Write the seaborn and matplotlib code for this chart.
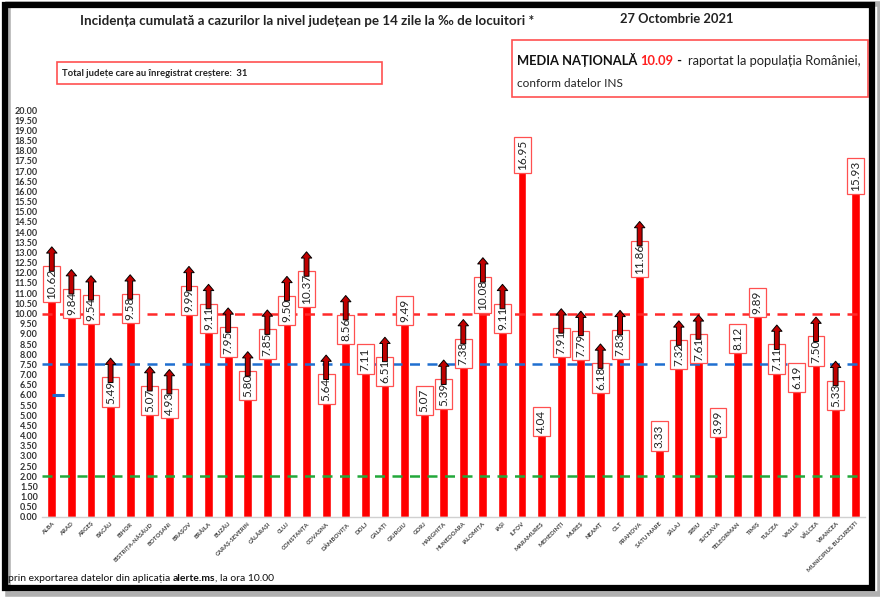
import numpy as np
import pandas as pd
import matplotlib
matplotlib.use('Agg')
import matplotlib.pyplot as plt
import seaborn as sns
from matplotlib.patches import Rectangle

# date judete
judete = ['ALBA', 'ARAD', 'ARGEȘ', 'BACĂU', 'BIHOR', 'BISTRIȚA-NĂSĂUD', 'BOTOȘANI',
          'BRAȘOV', 'BRĂILA', 'BUZĂU', 'CARAȘ-SEVERIN', 'CĂLĂRAȘI', 'CLUJ', 'CONSTANȚA',
          'COVASNA', 'DÂMBOVIȚA', 'DOLJ', 'GALAȚI', 'GIURGIU', 'GORJ', 'HARGHITA',
          'HUNEDOARA', 'IALOMIȚA', 'IAȘI', 'ILFOV', 'MARAMUREȘ', 'MEHEDINȚI', 'MUREȘ',
          'NEAMȚ', 'OLT', 'PRAHOVA', 'SATU MARE', 'SĂLAJ', 'SIBIU', 'SUCEAVA',
          'TELEORMAN', 'TIMIȘ', 'TULCEA', 'VASLUI', 'VÂLCEA', 'VRANCEA',
          'MUNICIPIUL BUCUREȘTI']
incidenta = [10.62, 9.84, 9.54, 5.49, 9.58, 5.07, 4.93, 9.99, 9.11, 7.95, 5.80, 7.85,
             9.50, 10.37, 5.64, 8.56, 7.11, 6.51, 9.49, 5.07, 5.39, 7.38, 10.08, 9.11,
             16.95, 4.04, 7.91, 7.79, 6.18, 7.83, 11.86, 3.33, 7.32, 7.61, 3.99, 8.12,
             9.89, 7.11, 6.19, 7.50, 5.33, 15.93]
# 1 = judetul a inregistrat crestere
crestere = [1, 1, 1, 1, 1, 1, 1, 1, 1, 1, 1, 1, 1, 1, 1, 1,
            0, 1, 0, 0, 1, 1, 1, 1, 0, 0, 1, 1, 1, 1, 1, 0, 1, 1, 0, 0, 0, 1, 0, 1, 1, 0]
praguri = [10.0, 7.5, 2.0]
culori_praguri = ['#ff2a2a', '#1f6fd0', '#22a83a']
prag_mic = 6.0
media_nationala = '10.09'
total_crestere = 31

df = pd.DataFrame({'judet': judete, 'incidenta': incidenta, 'crestere': crestere})

W, H = 880, 597
fig = plt.figure(figsize=(W / 100, H / 100), dpi=100)
sns.set_style('white')
plt.rcParams['font.family'] = ['Lato', 'DejaVu Sans']

def fx(px):
    return px / W

def fy(py):
    return 1 - py / H

ax = fig.add_axes([fx(42), fy(517), fx(865 - 42), (517 - 110) / H])
sns.barplot(data=df, x='judet', y='incidenta', color='#ff0000', width=0.45,
            saturation=1, ax=ax, zorder=2)
ax.set_xlim(-0.5, len(judete) - 0.5)
ax.set_ylim(0, 20)
ax.set_xlabel('')
ax.set_ylabel('')
ax.set_yticks(np.arange(0, 20.01, 0.5))
ax.set_yticklabels(['%.2f' % v for v in np.arange(0, 20.01, 0.5)],
                   fontsize=6.5, fontweight='bold', color='#333333')
ax.set_xticks(range(len(judete)))
ax.set_xticklabels(judete, rotation=45, ha='right', rotation_mode='anchor',
                   fontsize=4.3, fontweight='bold', color='#404040')
ax.tick_params(axis='both', length=0, pad=3)
for s in ['top', 'right', 'left']:
    ax.spines[s].set_visible(False)
ax.spines['bottom'].set_color('#d0d0d0')
ax.spines['bottom'].set_linewidth(1)

# linii de prag
for p, c in zip(praguri, culori_praguri):
    ax.axhline(p, color=c, lw=1.8, ls=(0, (4, 3)), zorder=3)
ax.axhline(prag_mic, xmin=0.012, xmax=0.036, color='#1f6fd0', lw=2.2,
           ls=(0, (4, 3)), zorder=3)

# etichete valori
etichete = []
for i, v in enumerate(incidenta):
    t = ax.text(i, v + 0.08, '%.2f' % v, rotation=90, ha='center', va='bottom',
                fontsize=8.5, color='#222222', zorder=4,
                bbox=dict(boxstyle='square,pad=0.25', fc='white', ec='#ff5050', lw=0.9))
    etichete.append(t)

fig.canvas.draw()
r = fig.canvas.get_renderer()
inv = ax.transData.inverted()
for i, t in enumerate(etichete):
    if not crestere[i]:
        continue
    bb = t.get_bbox_patch().get_window_extent(r)
    top = inv.transform((bb.x1, bb.y1))[1]
    ax.annotate('', xy=(i, top + 0.95), xytext=(i, top - 0.25),
                arrowprops=dict(arrowstyle='simple,head_length=0.45,head_width=0.75,tail_width=0.35',
                                mutation_scale=10, fc='#c00000', ec='black', lw=0.7,
                                shrinkA=0, shrinkB=0), zorder=5)


def rand(bucati, x0, y, latime, marime=10):
    # scrie bucati de text una dupa alta si le potriveste la latimea data (px)
    texte = [fig.text(0, fy(y), s, ha='left', va='baseline', fontsize=marime, **kw)
             for s, kw in bucati]
    total = sum(t.get_window_extent(r).width for t in texte)
    k = latime / total
    x = x0
    for t in texte:
        t.set_fontsize(marime * k)
        t.set_x(x / W)
        x += t.get_window_extent(r).width
    return texte


# titluri
rand([('Incidența cumulată a cazurilor la nivel județean pe 14 zile la ‰ de locuitori *',
       dict(fontweight='bold', color='#222222'))], 80, 25, 453)
rand([('27 Octombrie 2021', dict(fontweight='bold', color='#222222'))], 620, 23, 113)

# caseta stanga
fig.add_artist(Rectangle((fx(57), fy(84)), fx(382 - 57), (84 - 62) / H,
                         transform=fig.transFigure, fc='white', ec='#ff5050', lw=1.2))
rand([('Total județe care au înregistrat creștere:  %d' % total_crestere,
       dict(fontweight='bold', color='#222222'))], 62, 76, 186)

# caseta dreapta
fig.add_artist(Rectangle((fx(512), fy(97)), fx(868 - 512), (97 - 40) / H,
                         transform=fig.transFigure, fc='white', ec='#ff5050', lw=1.2))
rand([('MEDIA NAȚIONALĂ ', dict(fontweight='bold', color='#111111')),
      (media_nationala, dict(fontweight='bold', color='#ff2020')),
      (' -  ', dict(fontweight='bold', color='#111111')),
      ('raportat la populația României,', dict(color='#222222'))], 517, 65, 345)
rand([('conform datelor INS', dict(color='#222222'))], 517, 87, 105)

# nota jos
rand([("'prin exportarea datelor din aplicația ", dict(color='#111111')),
      ('alerte.ms', dict(fontweight='bold', color='#111111')),
      (', la ora 10.00', dict(color='#111111'))], 6, 581, 270)

# rama neagra cu umbra
fig.add_artist(Rectangle((fx(8), fy(594)), fx(872), 590 / H, transform=fig.transFigure,
                         fc='none', ec='#b0b0b0', lw=4, zorder=0))
fig.add_artist(Rectangle((fx(5), fy(588)), fx(867), 583 / H, transform=fig.transFigure,
                         fc='none', ec='black', lw=4.5, zorder=10))

fig.savefig('out.png', dpi=100)
